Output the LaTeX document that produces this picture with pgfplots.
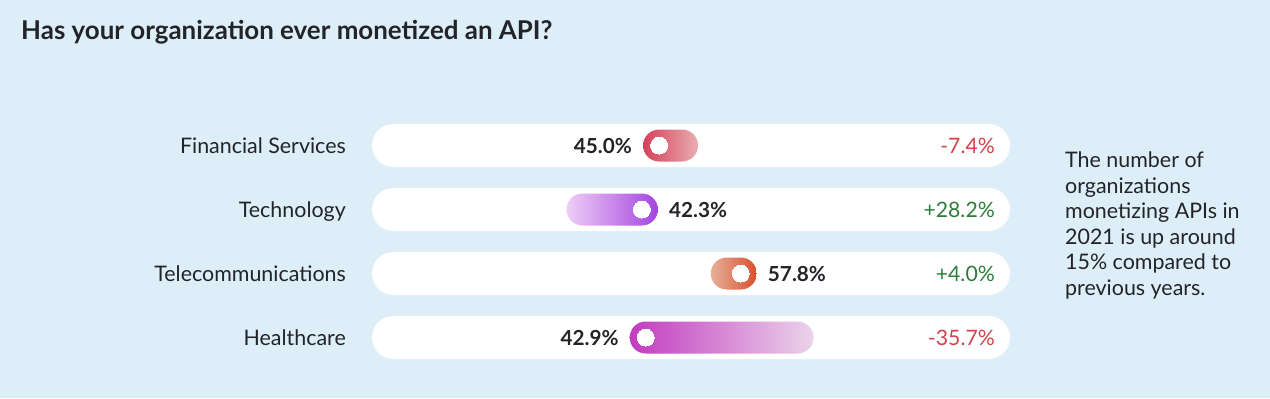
\documentclass[border=0pt]{standalone}
\usepackage{pgfplots}
\pgfplotsset{compat=1.18}
\usepackage{fontspec}
\setmainfont{Lato}
\definecolor{bg}{RGB}{221,238,248}
\definecolor{txt}{RGB}{34,36,40}
\definecolor{neg}{RGB}{209,67,77}
\definecolor{pos}{RGB}{45,125,59}
\definecolor{fsdark}{RGB}{213,64,90}
\definecolor{fslight}{RGB}{233,174,178}
\definecolor{tcdark}{RGB}{164,69,224}
\definecolor{tclight}{RGB}{238,205,246}
\definecolor{tldark}{RGB}{217,80,44}
\definecolor{tllight}{RGB}{230,176,154}
\definecolor{hcdark}{RGB}{194,60,192}
\definecolor{hclight}{RGB}{235,211,234}
\begin{document}
\begin{tikzpicture}[x=1bp,y=1bp]
\fill[bg] (0,0) rectangle (1270,398);
\node[anchor=base west, inner sep=0pt, font=\fontsize{26}{30}\selectfont\bfseries, text=txt] at (21,358.7) {Has your organization ever monetized an API?};
\node[anchor=base west, inner sep=0pt, align=left, font=\fontsize{21.5}{25.5}\selectfont, text=txt] at (1065,103) {The number of\\organizations\\monetizing APIs in\\2021 is up around\\15\% compared to\\previous years.};
\begin{axis}[
  at={(372bp,28.5bp)}, anchor=south west,
  scale only axis, width=638bp, height=256bp,
  xmin=0, xmax=100, ymin=-0.5, ymax=3.5, y dir=reverse,
  axis line style={draw=none}, tick style={draw=none},
  xtick=\empty, ytick={0,1,2,3},
  yticklabels={Financial Services,Technology,Telecommunications,Healthcare},
  yticklabel style={anchor=base east, inner sep=0pt, xshift=-26bp, yshift=-8bp, font=\fontsize{21.5}{25}\selectfont, text=txt},
  clip=false,
]
% tracks
\pgfplotsinvokeforeach{0,1,2,3}{
  \fill[white, rounded corners=21.5bp] ([yshift=21.5bp]axis cs:0,#1) rectangle ([yshift=-21.5bp]axis cs:100,#1);
}
% pills: current -> previous
\shade[left color=fsdark, right color=fslight, rounded corners=16bp] ([xshift=-16bp,yshift=16bp]axis cs:45.0,0) rectangle ([xshift=16bp,yshift=-16bp]axis cs:48.6,0);
\shade[left color=tclight, right color=tcdark, rounded corners=16bp] ([xshift=-16bp,yshift=16bp]axis cs:33.0,1) rectangle ([xshift=16bp,yshift=-16bp]axis cs:42.3,1);
\shade[left color=tllight, right color=tldark, rounded corners=16bp] ([xshift=-16bp,yshift=16bp]axis cs:55.6,2) rectangle ([xshift=16bp,yshift=-16bp]axis cs:57.8,2);
\shade[left color=hcdark, right color=hclight, rounded corners=16bp] ([xshift=-16bp,yshift=16bp]axis cs:42.9,3) rectangle ([xshift=16bp,yshift=-16bp]axis cs:66.7,3);
% current-value dots
\addplot[white, only marks, mark=*, mark size=8.5bp, mark options={fill=white, draw=white, line width=0pt}] coordinates {(45.0,0) (42.3,1) (57.8,2) (42.9,3)};
% value labels (decreases: left)
\addplot[draw=none, mark=none, nodes near coords, point meta=explicit symbolic,
  nodes near coords style={anchor=base east, inner sep=0pt, xshift=-27bp, yshift=-7.5bp, font=\fontsize{20.8}{24}\selectfont\bfseries, text=txt}]
  coordinates {(45.0,0) [45.0\%] (42.9,3) [42.9\%]};
% value labels (increases: right)
\addplot[draw=none, mark=none, nodes near coords, point meta=explicit symbolic,
  nodes near coords style={anchor=base west, inner sep=0pt, xshift=27bp, yshift=-7.5bp, font=\fontsize{20.8}{24}\selectfont\bfseries, text=txt}]
  coordinates {(42.3,1) [42.3\%] (57.8,2) [57.8\%]};
% change labels
\addplot[draw=none, mark=none, nodes near coords, point meta=explicit symbolic,
  nodes near coords style={anchor=base east, inner sep=0pt, xshift=-15bp, yshift=-7.5bp, font=\fontsize{21.3}{24}\selectfont, text=neg}]
  coordinates {(100,0) [-7.4\%] (100,3) [-35.7\%]};
\addplot[draw=none, mark=none, nodes near coords, point meta=explicit symbolic,
  nodes near coords style={anchor=base east, inner sep=0pt, xshift=-15bp, yshift=-7.5bp, font=\fontsize{21.3}{24}\selectfont, text=pos}]
  coordinates {(100,1) [+28.2\%] (100,2) [+4.0\%]};
\end{axis}
\end{tikzpicture}
\end{document}
